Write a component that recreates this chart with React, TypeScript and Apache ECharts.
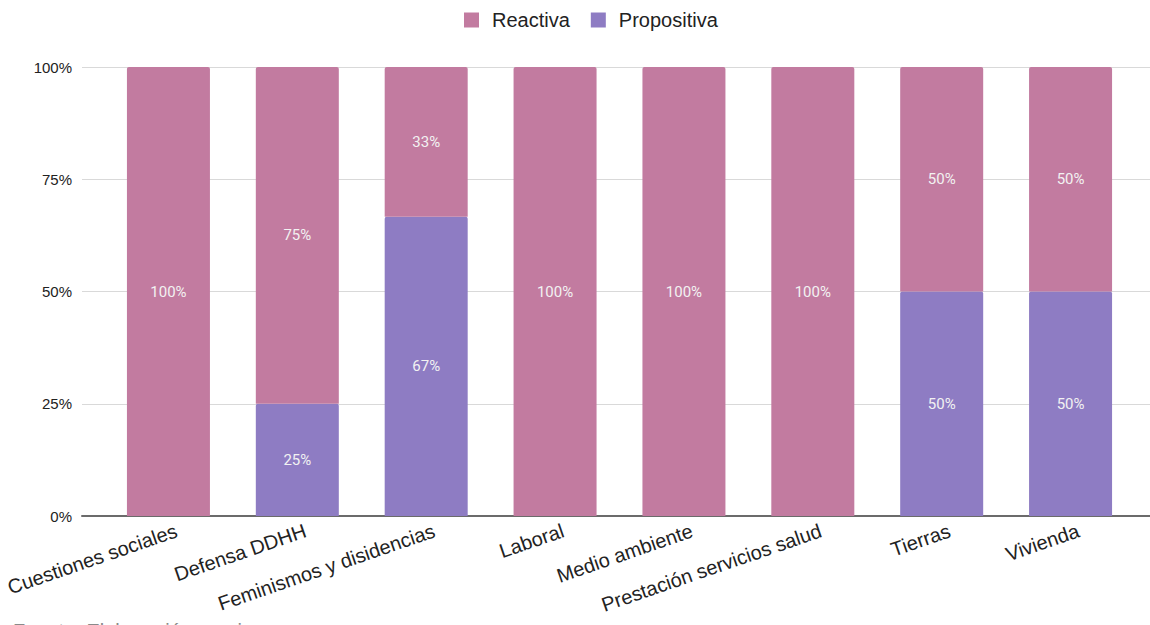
import React, { useEffect, useRef } from "react";
import * as echarts from "echarts";

const categories = [
  "Cuestiones sociales",
  "Defensa DDHH",
  "Feminismos y disidencias",
  "Laboral",
  "Medio ambiente",
  "Prestación servicios salud",
  "Tierras",
  "Vivienda",
];
const reactiva = [100, 75, 33.33, 100, 100, 100, 50, 50];
const propositiva = [0, 25, 66.67, 0, 0, 0, 50, 50];
const yTicks = [0, 25, 50, 75, 100];
const footer = "Fuente: Elaboración propia";

const FONT = "'Liberation Sans', Arial, sans-serif";
const PINK = "#c27ba0";
const PURPLE = "#8e7cc3";

export default function App() {
  const ref = useRef<HTMLDivElement>(null);
  useEffect(() => {
    document.body.style.margin = "0";
    if (!ref.current) return;
    const chart = echarts.init(ref.current, null, { renderer: "svg" });
    const label = {
      show: true,
      position: "inside",
      color: "#f2f2f2",
      fontFamily: "Roboto, sans-serif",
      fontSize: 15,
      formatter: (p: any) => (p.value > 0 ? Math.round(p.value) + "%" : ""),
    };
    chart.setOption({
      animation: false,
      backgroundColor: "#ffffff",
      legend: {
        data: ["Reactiva", "Propositiva"],
        left: 464,
        top: 10,
        padding: 0,
        icon: "rect",
        itemWidth: 15,
        itemHeight: 15,
        itemGap: 21,
        textStyle: {
          fontFamily: FONT,
          fontSize: 20,
          color: "#222",
          padding: [0, 0, 0, 8],
        },
      },
      grid: [
        { left: 82, right: 0, top: 67, bottom: 109 },
        { left: 104, width: 1031, top: 67, bottom: 109 },
        { left: 112, width: 1031, top: 67, bottom: 109 },
      ],
      xAxis: [
        {
          gridIndex: 0,
          type: "value",
          min: 0,
          max: 1,
          axisLine: { show: true, lineStyle: { color: "#6b6b6b", width: 2 } },
          axisTick: { show: false },
          axisLabel: { show: false },
          splitLine: { show: false },
        },
        {
          gridIndex: 1,
          type: "category",
          data: categories,
          axisLine: { show: false },
          axisTick: { show: false },
          axisLabel: { show: false },
        },
        {
          gridIndex: 2,
          type: "category",
          data: categories,
          axisLine: { show: false },
          axisTick: { show: false },
          axisLabel: {
            show: true,
            interval: 0,
            rotate: 19,
            margin: 14,
            fontFamily: FONT,
            fontSize: 20,
            color: "#222",
          },
        },
      ],
      yAxis: [
        {
          gridIndex: 0,
          type: "value",
          min: yTicks[0],
          max: yTicks[yTicks.length - 1],
          interval: 25,
          axisLine: { show: false },
          axisTick: { show: false },
          axisLabel: {
            margin: 10,
            formatter: "{value}%",
            fontFamily: FONT,
            fontSize: 15,
            color: "#222",
          },
          splitLine: { lineStyle: { color: "#d9d9d9", width: 1 } },
        },
        { gridIndex: 1, type: "value", min: 0, max: 100, show: false },
        { gridIndex: 2, type: "value", min: 0, max: 100, show: false },
      ],
      series: [
        {
          name: "Propositiva",
          type: "bar",
          xAxisIndex: 1,
          yAxisIndex: 1,
          stack: "total",
          barWidth: 83,
          data: propositiva,
          itemStyle: { color: PURPLE, borderRadius: [2, 2, 0, 0] },
          label,
        },
        {
          name: "Reactiva",
          type: "bar",
          xAxisIndex: 1,
          yAxisIndex: 1,
          stack: "total",
          barWidth: 83,
          data: reactiva,
          itemStyle: { color: PINK, borderRadius: [2, 2, 0, 0] },
          label,
        },
      ],
      graphic: [
        {
          type: "text",
          left: 13,
          top: 621,
          style: {
            text: footer,
            fontFamily: FONT,
            fontSize: 20,
            fill: "#8a8a8a",
          },
        },
      ],
    });
    return () => chart.dispose();
  }, []);
  return (
    <div
      ref={ref}
      style={{ position: "absolute", left: 0, top: 0, width: 1150, height: 625 }}
    />
  );
}
